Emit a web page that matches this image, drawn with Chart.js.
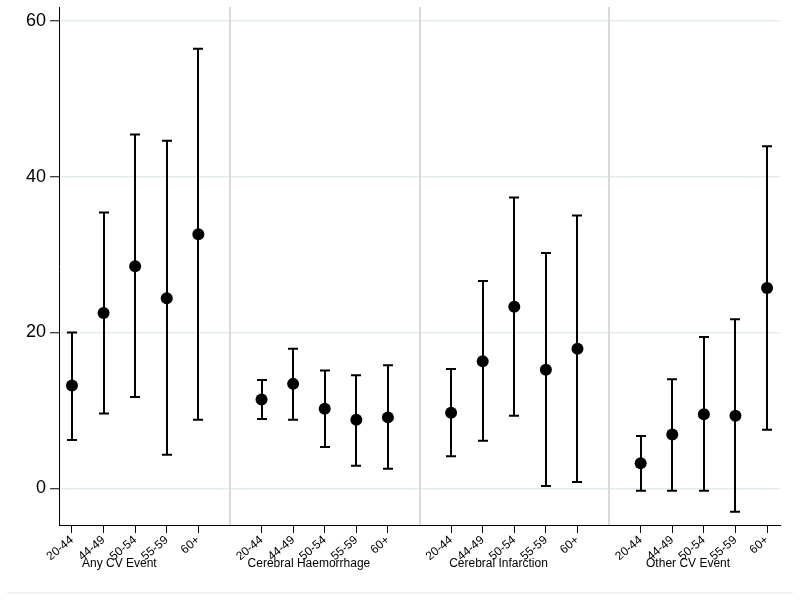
<!DOCTYPE html>
<html>
<head>
<meta charset="utf-8">
<script src="https://cdn.jsdelivr.net/npm/chart.js@4.4.1/dist/chart.umd.min.js"></script>
<style>
  body { margin: 0; background: #fff; }
  #wrap { width: 800px; height: 601px; }
</style>
</head>
<body>
<div id="wrap"><canvas id="chart"></canvas></div>
<script>
const ageLabels = ['20-44', '44-49', '50-54', '55-59', '60+'];
const groupNames = ['Any CV Event', 'Cerebral Haemorrhage', 'Cerebral Infarction', 'Other CV Event'];
// point estimate and confidence limits, 5 age bands per group
const estimates = [13.2, 22.5, 28.5, 24.4, 32.6,  11.4, 13.4, 10.2, 8.8, 9.1,  9.7, 16.3, 23.3, 15.2, 17.9,  3.2, 6.9, 9.5, 9.3, 25.7];
const lowerCI   = [6.2, 9.6, 11.7, 4.3, 8.8,  8.9, 8.8, 5.3, 2.9, 2.5,  4.1, 6.1, 9.3, 0.3, 0.8,  -0.3, -0.3, -0.3, -3.0, 7.5];
const upperCI   = [20.0, 35.4, 45.4, 44.6, 56.4,  13.9, 17.9, 15.1, 14.5, 15.8,  15.3, 26.6, 37.3, 30.2, 35.0,  6.7, 14.0, 19.4, 21.7, 43.9];
const yTicks = [0, 20, 40, 60];

// each group takes 5 slots plus one gap slot
function xPos(i) {
  return Math.floor(i / 5) * 6 + (i % 5);
}

const points = estimates.map((v, i) => ({x: xPos(i), y: v, lo: lowerCI[i], hi: upperCI[i]}));
const xTickVals = estimates.map((v, i) => xPos(i));

const errorBars = {
  id: 'errorBars',
  beforeDatasetsDraw(chart) {
    const ctx = chart.ctx;
    const x = chart.scales.x;
    const y = chart.scales.y;
    const area = chart.chartArea;
    ctx.save();
    // group separators
    ctx.strokeStyle = '#d9d9d9';
    ctx.lineWidth = 2;
    for (let k = 1; k < groupNames.length; k++) {
      const px = Math.round(x.getPixelForValue(k * 6 - 1));
      ctx.beginPath();
      ctx.moveTo(px, area.top);
      ctx.lineTo(px, area.bottom);
      ctx.stroke();
    }
    // confidence intervals
    ctx.strokeStyle = '#000';
    ctx.lineWidth = 2;
    points.forEach(p => {
      const px = Math.round(x.getPixelForValue(p.x));
      const top = y.getPixelForValue(p.hi);
      const bot = y.getPixelForValue(p.lo);
      ctx.beginPath();
      ctx.moveTo(px, top);
      ctx.lineTo(px, bot);
      ctx.moveTo(px - 5, top);
      ctx.lineTo(px + 5, top);
      ctx.moveTo(px - 5, bot);
      ctx.lineTo(px + 5, bot);
      ctx.stroke();
    });
    ctx.restore();
  },
  afterDraw(chart) {
    // group names under the age labels
    const ctx = chart.ctx;
    const x = chart.scales.x;
    ctx.save();
    ctx.fillStyle = '#000';
    ctx.font = '12px "Liberation Sans", Arial, sans-serif';
    ctx.textAlign = 'center';
    ctx.textBaseline = 'alphabetic';
    groupNames.forEach((g, k) => {
      ctx.fillText(g, x.getPixelForValue(k * 6 + 1.5), chart.chartArea.bottom + 42);
    });
    // faint frame edge at the bottom of the graph region
    ctx.strokeStyle = '#f2f2f2';
    ctx.lineWidth = 2;
    ctx.beginPath();
    ctx.moveTo(7, 593);
    ctx.lineTo(793, 593);
    ctx.stroke();
    ctx.restore();
  }
};

Chart.defaults.font.family = '"Liberation Sans", Arial, sans-serif';
Chart.defaults.color = '#000';

const ctx = document.getElementById('chart').getContext('2d');
const myChart = new Chart(ctx, {
  type: 'scatter',
  data: {
    datasets: [{
      data: points,
      backgroundColor: '#000',
      borderColor: '#000',
      pointRadius: 6,
      pointHoverRadius: 6,
      borderWidth: 0
    }]
  },
  options: {
    responsive: true,
    maintainAspectRatio: false,
    animation: false,
    events: [],
    layout: {padding: {top: 7, right: 20, bottom: 8, left: 0}},
    plugins: {legend: {display: false}, tooltip: {enabled: false}},
    scales: {
      x: {
        type: 'linear',
        position: 'bottom',
        min: -0.41,
        max: 22.41,
        afterBuildTicks: axis => { axis.ticks = xTickVals.map(v => ({value: v})); },
        afterFit: axis => { axis.height = 68; axis.paddingLeft = 0; axis.paddingRight = 0; },
        grid: {display: true, drawOnChartArea: false, drawTicks: true, tickLength: 8, tickColor: '#000', tickWidth: 1},
        border: {display: true, color: '#000', width: 1},
        ticks: {
          autoSkip: false,
          maxRotation: 40,
          minRotation: 40,
          padding: 0,
          font: {size: 12},
          callback: (v, i) => ageLabels[i % 5]
        }
      },
      y: {
        min: -4.71,
        max: 61.76,
        afterBuildTicks: axis => { axis.ticks = yTicks.map(v => ({value: v})); },
        afterFit: axis => { axis.width = 59; axis.paddingTop = 0; axis.paddingBottom = 0; },
        grid: {color: '#e3edf0', lineWidth: 1.5, tickLength: 9, tickColor: '#000', tickWidth: 1},
        border: {display: true, color: '#000', width: 1},
        ticks: {padding: 4, font: {size: 18}}
      }
    }
  },
  plugins: [errorBars]
});
</script>
</body>
</html>
